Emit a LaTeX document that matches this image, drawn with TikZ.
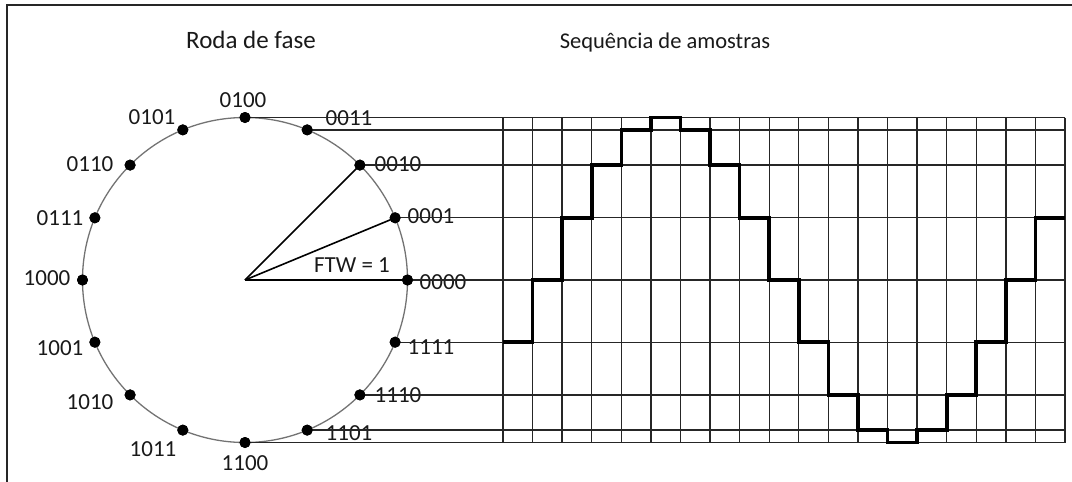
\documentclass[tikz,border=0pt]{standalone}
\usepackage{fontspec}
\setmainfont{Carlito}
\begin{document}
\begin{tikzpicture}[x=1pt,y=-1pt,
  lbl/.style={inner sep=0pt, font=\fontsize{23}{27}\selectfont, text=black!90},
  ttl/.style={inner sep=0pt, anchor=base, text=black!90},
  dotn/.style={circle, fill=black, inner sep=0pt, minimum size=11pt},
  rim/.style={draw=black!55, line width=1.3pt},
  gridln/.style={draw=black!85, line width=1.35pt},
  spoke/.style={draw=black, line width=1.6pt},
  wave/.style={draw=black, line width=3.6pt, line join=miter},
  frame/.style={draw=black!85, line width=2pt},
]
\useasboundingbox (0,0) rectangle (1072,482);

% outer frame (runs off the right and bottom edges)
\draw[frame] (7,495) -- (7,5) -- (1085,5);

% titles
\node[ttl, font=\fontsize{25}{29}\selectfont] (t1) at (251,48) {Roda de fase};
\node[ttl, font=\fontsize{22.5}{27}\selectfont] (t2) at (665,48) {Sequência de amostras};

% phase wheel
\coordinate (O) at (245,280);
\draw[rim] (O) circle[radius=162.5];
\foreach \k in {0,...,15}
  \node[dotn] (d\k) at ({245+162.5*cos(22.5*\k)},{280-162.5*sin(22.5*\k)}) {};

% phase labels
\node[lbl] (l0)  at (443,282) {0000};
\node[lbl] (l1)  at (431,216) {0001};
\node[lbl] (l2)  at (398,164) {0010};
\node[lbl] (l3)  at (349,118) {0011};
\node[lbl] (l4)  at (243,100) {0100};
\node[lbl] (l5)  at (152,117) {0101};
\node[lbl] (l6)  at (90,164)  {0110};
\node[lbl] (l7)  at (60,218)  {0111};
\node[lbl] (l8)  at (47,278)  {1000};
\node[lbl] (l9)  at (60,348)  {1001};
\node[lbl] (l10) at (90,402)  {1010};
\node[lbl] (l11) at (153,449) {1011};
\node[lbl] (l12) at (245,463) {1100};
\node[lbl] (l13) at (349,433) {1101};
\node[lbl] (l14) at (398,395) {1110};
\node[lbl] (l15) at (431,347) {1111};
\node[lbl] (ftw) at (352,265) {FTW = 1};

% grid: horizontal levels taken from the right half of the wheel
\foreach \k in {4,3,2,1,0,15,14,13,12}
  \coordinate (g\k) at (1065,{280-162.5*sin(22.5*\k)});
\foreach \k in {4,3,2,1,0,15,14,13,12}
  \draw[gridln] (d\k.center) -- (g\k);
% grid: vertical sample lines
\foreach \i in {0,...,19} {
  \coordinate (vt\i) at ({503+29.58*\i},117.5);
  \coordinate (vb\i) at ({503+29.58*\i},442.5);
  \draw[gridln] (vt\i) -- (vb\i);
}

% spokes
\draw[spoke] (O) -- (d0.center);
\draw[spoke] (O) -- (d1.center);
\draw[spoke] (O) -- (d2.center);

% redraw dots on top of the lines
\foreach \k in {0,...,15}
  \fill (d\k.center) circle[radius=5.5];

% sampled sine
\draw[wave] (503,{280-162.5*sin(-22.5)})
  \foreach \lv [count=\i] in {0,1,2,3,4,3,2,1,0,-1,-2,-3,-4,-3,-2,-1,0,1}
    { -| ({503+29.58*\i},{280-162.5*sin(22.5*\lv)}) }
  -- (1065,{280-162.5*sin(22.5)});
\end{tikzpicture}
\end{document}
